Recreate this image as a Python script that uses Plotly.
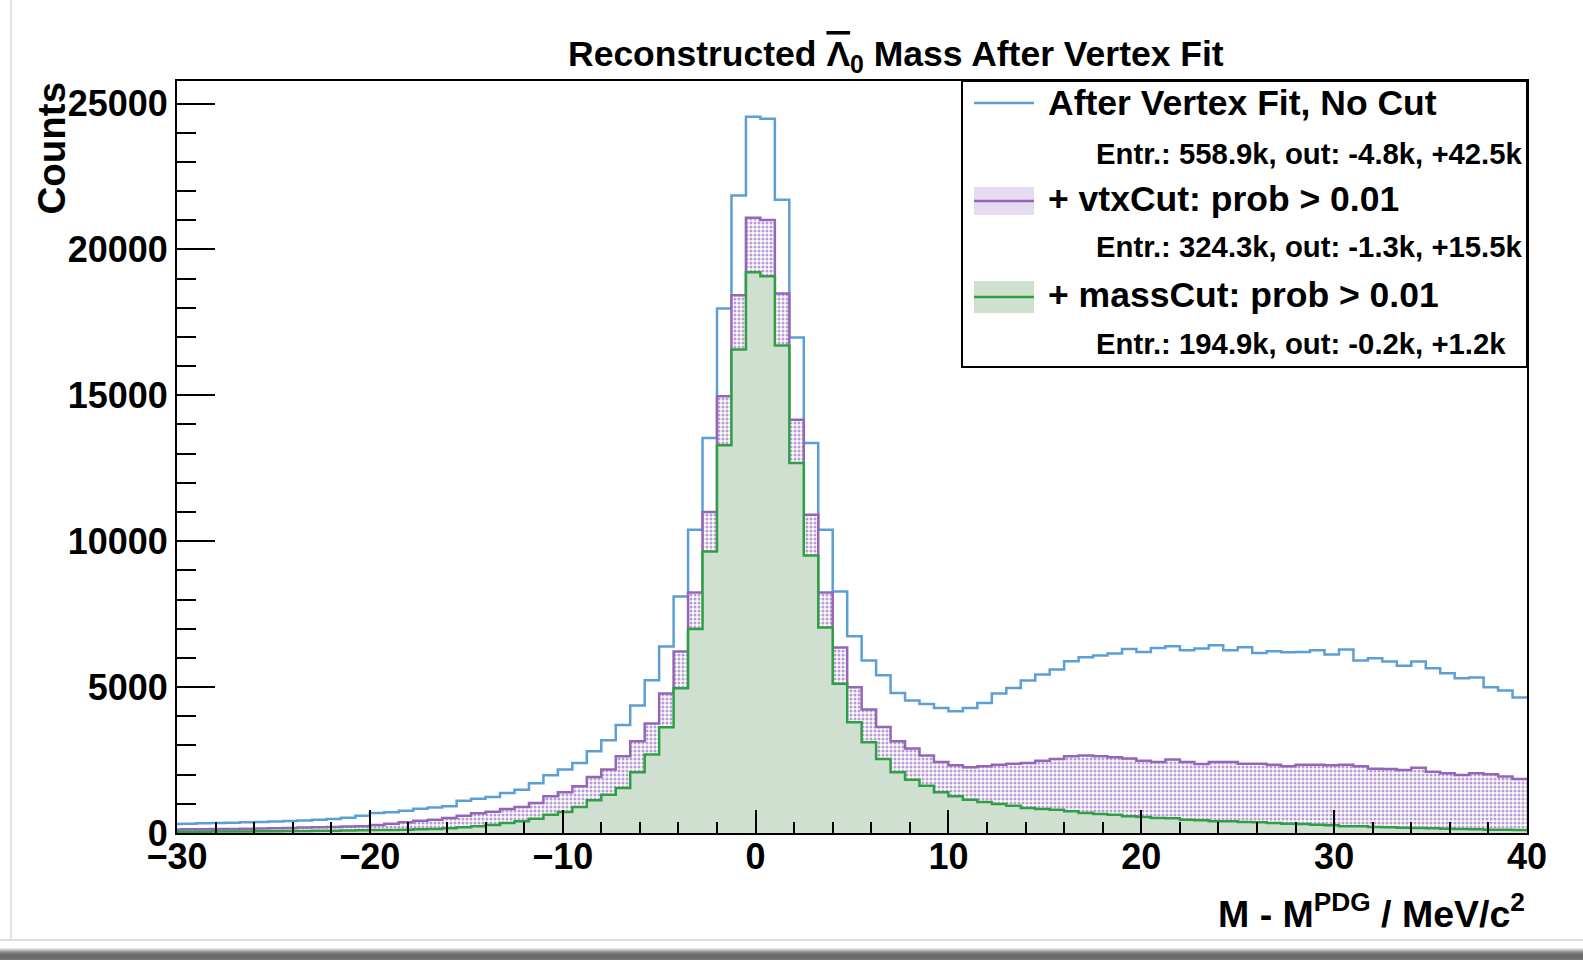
import plotly.graph_objects as go

# Histogram binning: 100 bins of 0.75 MeV from -35 to 40, shown from -30 to 40
BIN_LO = -35.0
BIN_W = 0.75
FIRST_BIN = 6  # first bin reaching into the visible window

# Counts per bin (bins 6..99)
no_cut = [
    310, 320, 330, 340, 350, 365, 380, 395, 410, 430, 450, 480, 520, 590,
    686, 710, 766, 834, 870, 914, 1108, 1177, 1235, 1372, 1486, 1703, 1977, 2172,
    2400, 2800, 3178, 3703, 4366, 5234, 6391, 8106, 10393, 13537, 17973, 21849,
    24544, 24479, 21700, 16979, 13366, 10393, 8277, 6744, 5909, 5406, 4800, 4538,
    4423, 4286, 4172, 4286, 4458, 4778, 4972, 5224, 5429, 5601, 5886, 6024, 6081,
    6149, 6309, 6206, 6344, 6401, 6264, 6321, 6435, 6264, 6367, 6172, 6229, 6195,
    6206, 6264, 6115, 6287, 5909, 5992, 5877, 5728, 5877, 5649, 5477, 5306, 5328,
    4995, 4882, 4642,
]
vtx_cut = [
    120, 125, 130, 135, 140, 148, 156, 165, 175, 185, 195, 208, 220, 235,
    274, 320, 366, 423, 457, 514, 594, 674, 731, 823, 892, 1029, 1257, 1394,
    1600, 1920, 2172, 2629, 3143, 3749, 4778, 6220, 8244, 10998, 14966, 18430,
    21084, 21004, 18488, 14166, 10907, 8244, 6357, 4997, 4229, 3635, 3143, 2892,
    2652, 2434, 2320, 2252, 2286, 2343, 2377, 2400, 2480, 2537, 2629, 2652, 2629,
    2595, 2549, 2480, 2434, 2515, 2434, 2366, 2434, 2434, 2377, 2377, 2343, 2286,
    2343, 2343, 2320, 2343, 2286, 2200, 2195, 2160, 2240, 2103, 2046, 1989, 2046,
    2012, 1932, 1852,
]
mass_cut = [
    40, 42, 45, 48, 50, 55, 58, 62, 66, 70, 75, 80, 85, 92,
    100, 103, 114, 126, 137, 160, 194, 229, 274, 343, 400, 491, 629, 720,
    892, 1120, 1314, 1543, 2080, 2686, 3623, 4963, 6987, 9649, 13285, 16569,
    19219, 19082, 16706, 12680, 9512, 7044, 5111, 3795, 3109, 2537, 2080, 1829,
    1623, 1394, 1257, 1143, 1063, 994, 937, 857, 823, 800, 743, 686, 651,
    629, 571, 549, 514, 503, 457, 434, 400, 400, 377, 366, 343, 320,
    309, 286, 263, 229, 229, 206, 194, 183, 171, 160, 149, 137, 126,
    114, 114, 103,
]

legend_titles = ["After Vertex Fit, No Cut", "+ vtxCut: prob > 0.01", "+ massCut: prob > 0.01"]
legend_stats = [
    "Entr.: 558.9k, out: -4.8k, +42.5k",
    "Entr.: 324.3k, out: -1.3k, +15.5k",
    "Entr.: 194.9k, out: -0.2k, +1.2k",
]

X_RANGE = [-30, 40]
Y_MAX = 1.05 * max(no_cut)

BLUE = "#5b9fd6"
PURPLE = "#9466b8"
GREEN = "#2ea043"
GREEN_FILL = "#d0e0d0"
FONT = "Liberation Sans"

W_PX, H_PX = 1583, 960
L, R, T, B = 177, 1527, 81, 833


def edges(n):
    return [BIN_LO + BIN_W * (FIRST_BIN + i) for i in range(n + 1)]


def step(vals):
    return edges(len(vals)), list(vals) + [vals[-1]]


def px(x):
    return (x - L) / (R - L)


def py(y):
    return (B - y) / (B - T)


fig = go.Figure()

xb, yb = step(no_cut)
fig.add_trace(go.Scatter(x=xb, y=yb, mode="lines", line=dict(color=BLUE, width=2.5, shape="hv"),
                         hoverinfo="skip", showlegend=False))

xv, yv = step(vtx_cut)
fig.add_trace(go.Scatter(x=xv, y=yv, mode="lines", line=dict(color=PURPLE, width=2.5, shape="hv"),
                         fill="tozeroy", fillcolor="rgba(0,0,0,0)",
                         fillpattern=dict(shape=".", size=4, solidity=0.45, fgcolor="#b89ad6",
                                          bgcolor="white", fillmode="replace"),
                         hoverinfo="skip", showlegend=False))

xm, ym = step(mass_cut)
fig.add_trace(go.Scatter(x=xm, y=ym, mode="lines", line=dict(color=GREEN, width=2.5, shape="hv"),
                         fill="tozeroy", fillcolor=GREEN_FILL,
                         hoverinfo="skip", showlegend=False))

shapes = [
    # legend box and its samples
    dict(type="rect", xref="paper", yref="paper", x0=px(962), x1=px(1527), y0=py(367), y1=py(81),
         line=dict(color="black", width=2), fillcolor="white", layer="above"),
    dict(type="line", xref="paper", yref="paper", x0=px(974), x1=px(1034), y0=py(103), y1=py(103),
         line=dict(color=BLUE, width=2.5), layer="above"),
    dict(type="rect", xref="paper", yref="paper", x0=px(974), x1=px(1034), y0=py(313), y1=py(281),
         line=dict(width=0), fillcolor=GREEN_FILL, layer="above"),
    dict(type="line", xref="paper", yref="paper", x0=px(974), x1=px(1034), y0=py(297), y1=py(297),
         line=dict(color=GREEN, width=2.5), layer="above"),
    dict(type="rect", xref="paper", yref="paper", x0=px(974), x1=px(1034), y0=py(215), y1=py(187),
         line=dict(width=0), fillcolor="rgba(184,154,214,0.35)", layer="above"),
    dict(type="line", xref="paper", yref="paper", x0=px(974), x1=px(1034), y0=py(201), y1=py(201),
         line=dict(color=PURPLE, width=2.5), layer="above"),
    # window border lines and bottom drop shadow
    dict(type="line", xref="paper", yref="paper", x0=px(0), x1=px(W_PX), y0=py(940), y1=py(940),
         line=dict(color="#d4d4d4", width=1.5), layer="above"),
    dict(type="line", xref="paper", yref="paper", x0=px(11), x1=px(11), y0=py(0), y1=py(940),
         line=dict(color="#d8d8d8", width=1.5), layer="above"),
]
shadow_cols = ["#e6e6e6", "#cfcfcf", "#b4b4b4", "#9a9a9a", "#858585", "#777777", "#6e6e6e",
               "#6a6a6a", "#696969", "#6b6b6b", "#707070", "#787878"]
for i, c in enumerate(shadow_cols):
    shapes.append(dict(type="rect", xref="paper", yref="paper", x0=px(0), x1=px(W_PX),
                       y0=py(948 + i + 1), y1=py(948 + i), line=dict(width=0),
                       fillcolor=c, layer="above"))

annotations = []
title_rows = [103, 199, 295]
stat_rows = [154, 247, 343]
for t, yy in zip(legend_titles, title_rows):
    annotations.append(dict(text=t, x=px(1046), y=py(yy), xref="paper", yref="paper",
                            xanchor="left", yanchor="middle", showarrow=False,
                            font=dict(family=FONT, size=35.5, color="black", weight="bold")))
for t, yy in zip(legend_stats, stat_rows):
    annotations.append(dict(text=t, x=px(1094), y=py(yy), xref="paper", yref="paper",
                            xanchor="left", yanchor="middle", showarrow=False,
                            font=dict(family=FONT, size=29.3, color="black", weight="bold")))

annotations.append(dict(
    text="Reconstructed <span style=\"text-decoration:overline\">\u039b</span><sub>0</sub> Mass After Vertex Fit",
    x=px(896), y=py(56), xref="paper", yref="paper",
    xanchor="center", yanchor="middle", showarrow=False,
    font=dict(family=FONT, size=35.5, color="black", weight="bold")))
annotations.append(dict(text="Counts", x=px(51), y=py(80), xref="paper", yref="paper",
                        xanchor="center", yanchor="top", textangle=-90, showarrow=False,
                        font=dict(family=FONT, size=38.5, color="black", weight="bold")))
annotations.append(dict(text="M - M<sup>PDG</sup> / MeV/c<sup>2</sup>", x=px(1527), y=py(911),
                        xref="paper", yref="paper", xanchor="right", yanchor="middle",
                        showarrow=False,
                        font=dict(family=FONT, size=37.5, color="black", weight="bold")))

tick_font = dict(family=FONT, size=36, color="black", weight="bold")
fig.update_layout(
    width=W_PX, height=H_PX,
    margin=dict(l=L, r=W_PX - R, t=T, b=H_PX - B, autoexpand=False),
    paper_bgcolor="white", plot_bgcolor="white",
    shapes=shapes, annotations=annotations,
    xaxis=dict(range=X_RANGE, tickvals=[-30, -20, -10, 0, 10, 20, 30, 40],
               ticks="inside", ticklen=23, tickwidth=2, tickcolor="black",
               ticklabelstandoff=-9,
               minor=dict(dtick=2, tick0=0, ticks="inside", ticklen=11, tickwidth=2, tickcolor="black"),
               showline=True, linewidth=2, linecolor="black", mirror=True, showgrid=False,
               zeroline=False, tickfont=tick_font),
    yaxis=dict(range=[0, Y_MAX], tickvals=[0, 5000, 10000, 15000, 20000, 25000], tickformat="d",
               ticks="inside", ticklen=38, tickwidth=2, tickcolor="black",
               minor=dict(dtick=1000, tick0=0, ticks="inside", ticklen=19, tickwidth=2, tickcolor="black"),
               showline=True, linewidth=2, linecolor="black", mirror=True, showgrid=False,
               zeroline=False, tickfont=tick_font),
)

fig.write_html("out.html")
